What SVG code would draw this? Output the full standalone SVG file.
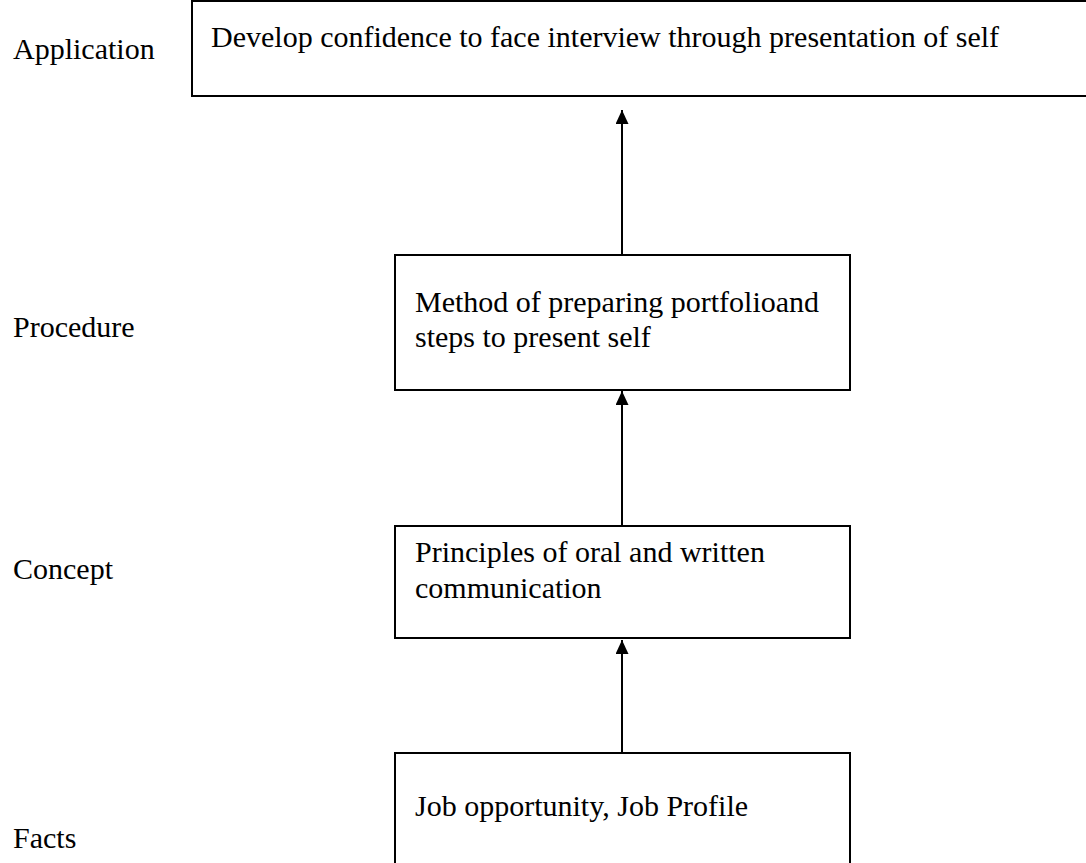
<svg xmlns="http://www.w3.org/2000/svg" width="1086" height="863" viewBox="0 0 1086 863">
  <defs>
    <style>
      .box { fill: #ffffff; stroke: #000000; stroke-width: 2; }
      .txt { font-family: "Liberation Serif", "Times New Roman", serif; font-size: 30px; fill: #000000; }
      .link { stroke: #000000; stroke-width: 2; fill: none; marker-end: url(#arrow); }
    </style>
    <marker id="arrow" viewBox="0 0 14 13" refX="14" refY="6.5" markerWidth="14" markerHeight="13" markerUnits="userSpaceOnUse" orient="auto">
      <path d="M0,0 L14,6.5 L0,13 z" fill="#000000"/>
    </marker>
  </defs>
  <rect width="1086" height="863" fill="#ffffff"/>

  <!-- level labels -->
  <g id="labels">
    <text class="txt" x="13" y="59">Application</text>
    <text class="txt" x="13" y="337">Procedure</text>
    <text class="txt" x="13" y="579">Concept</text>
    <text class="txt" x="13" y="848">Facts</text>
  </g>

  <g id="node-application">
    <rect class="box" x="192" y="1" width="920" height="95"/>
    <text class="txt" x="211" y="47">Develop confidence to face interview through presentation of self</text>
  </g>

  <g id="node-procedure">
    <rect class="box" x="395" y="255" width="455" height="135"/>
    <text class="txt" x="415" y="312">Method of preparing portfolioand</text>
    <text class="txt" x="415" y="347">steps to present self</text>
  </g>

  <g id="node-concept">
    <rect class="box" x="395" y="526" width="455" height="112"/>
    <text class="txt" x="415" y="562">Principles of oral and written</text>
    <text class="txt" x="415" y="598">communication</text>
  </g>

  <g id="node-facts">
    <rect class="box" x="395" y="753" width="455" height="120"/>
    <text class="txt" x="415" y="816">Job opportunity, Job Profile</text>
  </g>

  <!-- connectors, drawn last so the heads sit above the box edges -->
  <g id="connectors">
    <line class="link" x1="622" y1="255" x2="622" y2="110"/>
    <line class="link" x1="622" y1="526" x2="622" y2="391"/>
    <line class="link" x1="622" y1="753" x2="622" y2="640"/>
  </g>
</svg>
